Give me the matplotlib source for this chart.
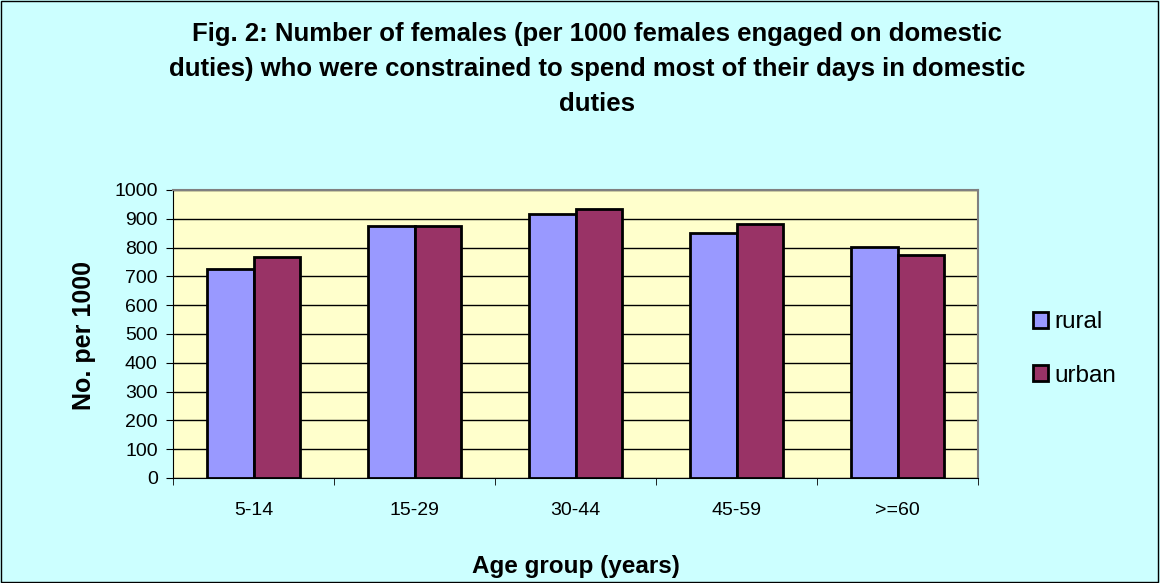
import matplotlib.pyplot as plt
import numpy as np

age_groups = ["5-14", "15-29", "30-44", "45-59", ">=60"]
rural = [726, 874, 915, 850, 803]
urban = [767, 874, 933, 881, 773]
y_ticks = list(range(0, 1001, 100))

title = ("Fig. 2: Number of females (per 1000 females engaged on domestic\n"
         "duties) who were constrained to spend most of their days in domestic\n"
         "duties")

W, H = 1160, 583


def main():
    plt.rcParams["font.family"] = ["Liberation Sans", "DejaVu Sans"]
    fig = plt.figure(figsize=(W / 100, H / 100), dpi=100, facecolor="#CCFFFF")
    # thin black frame around the whole chart
    fig.patches.append(plt.Rectangle((0.001, 0.002), 0.997, 0.996, transform=fig.transFigure,
                                     fill=False, edgecolor="black", linewidth=1))

    ax = fig.add_axes([173 / W, 1 - 478 / H, (978 - 173) / W, (478 - 190) / H])
    ax.set_facecolor("#FFFFCC")

    x = np.arange(len(age_groups))
    w = 0.29
    ax.bar(x - w / 2, rural, w, color="#9999FF", edgecolor="black", linewidth=2,
           label="rural", zorder=3)
    ax.bar(x + w / 2, urban, w, color="#993366", edgecolor="black", linewidth=2,
           label="urban", zorder=3)

    ax.set_xlim(-0.5, len(age_groups) - 0.5)
    ax.set_ylim(0, 1000)
    ax.set_yticks(y_ticks)
    ax.tick_params(axis="y", labelsize=14, length=5, direction="out", pad=6)
    ax.set_xticks(x)
    ax.set_xticklabels(age_groups, fontsize=14)
    ax.tick_params(axis="x", length=0, pad=17)
    ax.set_xticks(np.arange(len(age_groups) + 1) - 0.5, minor=True)
    ax.tick_params(axis="x", which="minor", length=5, direction="out")
    ax.grid(axis="y", color="black", linewidth=1, zorder=0)

    for side in ["top", "right"]:
        ax.spines[side].set_color("#808080")
        ax.spines[side].set_linewidth(1.5)
    ax.spines["left"].set_color("black")
    ax.spines["bottom"].set_color("black")

    fig.text(84 / W, 1 - 335 / H, "No. per 1000", rotation=90, ha="center", va="center",
             fontsize=18, fontweight="bold")
    fig.text(576 / W, 1 - 567 / H, "Age group (years)", ha="center", va="center",
             fontsize=17.5, fontweight="bold")
    fig.text(597 / W, 1 - 69 / H, title, ha="center", va="center", fontsize=18.5,
             fontweight="bold", linespacing=1.6)

    fig.legend(loc="center left", bbox_to_anchor=(1033 / W, 1 - 349 / H), frameon=False,
               fontsize=17.5, handlelength=0.62, handleheight=0.62, handletextpad=0.25,
               labelspacing=1.3, borderpad=0, borderaxespad=0)

    fig.savefig("out.png", dpi=100, facecolor=fig.get_facecolor())


if __name__ == "__main__":
    main()
